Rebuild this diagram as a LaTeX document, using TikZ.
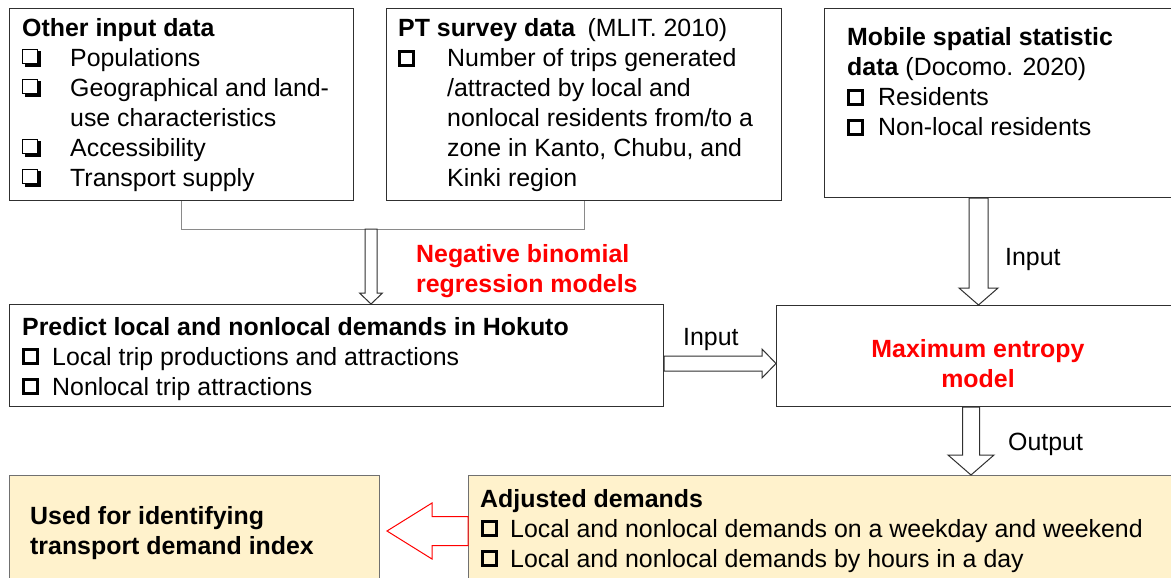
\documentclass[tikz,border=0pt]{standalone}
\usepackage{fontspec}
\setmainfont{Liberation Sans}
\usetikzlibrary{calc}

\definecolor{paleyellow}{HTML}{FFF2CC}
\definecolor{boxline}{HTML}{303030}
\definecolor{yellowline}{HTML}{707070}
\definecolor{linkgray}{HTML}{8A8A8A}
\definecolor{modelred}{HTML}{FF0000}

% bullets: thick square and shadowed square
\newcommand\sqbox{\raisebox{3pt}{\setlength\fboxrule{3pt}\setlength\fboxsep{0pt}\fbox{\rule{0pt}{11pt}\hspace{11pt}}}}
\newcommand\shbox{\makebox[19pt][l]{\rlap{\hspace{2.8pt}\rule{15.6pt}{15.6pt}}%
  \raisebox{4pt}{\setlength\fboxrule{1.2pt}\setlength\fboxsep{0pt}%
  \fcolorbox{black}{white}{\rule{0pt}{13.2pt}\hspace{13.2pt}}}}}
\newcommand\itm[2]{\makebox[#1][l]{#2}}

% hollow block arrows: style, from, to, shaft half width, head half width, head length
\newcommand\hollowdown[6]{\draw[#1] let \p1=(#2), \p2=(#3) in
  (\x1-#4pt,\y1) -- (\x1-#4pt,\y2+#6pt) -- (\x1-#5pt,\y2+#6pt) -- (\x1,\y2)
  -- (\x1+#5pt,\y2+#6pt) -- (\x1+#4pt,\y2+#6pt) -- (\x1+#4pt,\y1) -- cycle;}
\newcommand\hollowright[6]{\draw[#1] let \p1=(#2), \p2=(#3) in
  (\x1,\y1+#4pt) -- (\x2-#6pt,\y1+#4pt) -- (\x2-#6pt,\y1+#5pt) -- (\x2,\y1)
  -- (\x2-#6pt,\y1-#5pt) -- (\x2-#6pt,\y1-#4pt) -- (\x1,\y1-#4pt) -- cycle;}
\newcommand\hollowleft[6]{\draw[#1] let \p1=(#2), \p2=(#3) in
  (\x1,\y1+#4pt) -- (\x2+#6pt,\y1+#4pt) -- (\x2+#6pt,\y1+#5pt) -- (\x2,\y1)
  -- (\x2+#6pt,\y1-#5pt) -- (\x2+#6pt,\y1-#4pt) -- (\x1,\y1-#4pt) -- cycle;}

\tikzset{
  box/.style={draw=boxline, line width=1.1pt, fill=white, anchor=north west, inner sep=0pt},
  ybox/.style={draw=yellowline, line width=1.1pt, fill=paleyellow, anchor=north west, inner sep=0pt},
  txt/.style={anchor=base west, inner sep=0pt, font=\fontsize{24.9}{30}\selectfont},
  redtxt/.style={txt, text=modelred, font=\fontsize{24.9}{30}\selectfont\bfseries},
  link/.style={draw=linkgray, line width=1pt},
  blockarrow/.style={draw=boxline, line width=1pt, fill=white, line join=miter},
  redarrow/.style={draw=modelred, line width=1pt, fill=white, line join=miter}
}

\begin{document}
\begin{tikzpicture}[x=1pt,y=-1pt]
\clip (0,0) rectangle (1171,578);
\fill[white] (0,0) rectangle (1171,578);

% boxes
\node[box, minimum width=344pt, minimum height=192pt] (other) at (9,8) {};
\node[box, minimum width=395pt, minimum height=192pt] (pt) at (386,8) {};
\node[box, minimum width=352pt, minimum height=189pt] (mob) at (824,8) {};
\node[box, minimum width=654pt, minimum height=102pt] (pred) at (9,304) {};
\node[box, minimum width=400pt, minimum height=101pt] (maxent) at (776,305) {};
\node[ybox, minimum width=370pt, minimum height=110pt] (used) at (9,475) {};
\node[ybox, minimum width=710pt, minimum height=110pt] (adj) at (468,475) {};

% box texts
\node[txt] (othertxt) at (22,37) {\begin{tabular}[t]{@{}l@{}l@{}}
\multicolumn{2}{@{}l@{}}{\textbf{Other input data}}\\
\itm{48pt}{\shbox} & Populations\\
\itm{48pt}{\shbox} & Geographical and land-\\
 & use characteristics\\
\itm{48pt}{\shbox} & Accessibility\\
\itm{48pt}{\shbox} & Transport supply
\end{tabular}};

\node[txt] (pttxt) at (398,37) {\begin{tabular}[t]{@{}l@{}l@{}}
\multicolumn{2}{@{}l@{}}{\textbf{PT survey data}\hspace{12pt}(MLIT. 2010)}\\
\itm{49pt}{\sqbox} & Number of trips generated\\
 & /attracted by local and\\
 & nonlocal residents from/to a\\
 & zone in Kanto, Chubu, and\\
 & Kinki region
\end{tabular}};

\node[txt] (mobtxt) at (847,46) {\begin{tabular}[t]{@{}l@{}}
\textbf{Mobile spatial statistic}\\
\textbf{data} (Docomo. 2020)\\
\itm{31pt}{\sqbox}Residents\\
\itm{31pt}{\sqbox}Non-local residents
\end{tabular}};

\node[txt] (predtxt) at (22,335) {\begin{tabular}[t]{@{}l@{}}
\textbf{Predict local and nonlocal demands in Hokuto}\\
\itm{30pt}{\sqbox}Local trip productions and attractions\\
\itm{30pt}{\sqbox}Nonlocal trip attractions
\end{tabular}};

\node[redtxt, anchor=base] (maxtxt) at (978,357) {\begin{tabular}[t]{@{}c@{}}
Maximum entropy\\ model
\end{tabular}};

\node[redtxt] (nbtxt) at (416,262) {\begin{tabular}[t]{@{}l@{}}
Negative binomial\\ regression models
\end{tabular}};

\node[txt] (usedtxt) at (30,524) {\begin{tabular}[t]{@{}l@{}}
\textbf{Used for identifying}\\
\textbf{transport demand index}
\end{tabular}};

\node[txt] (adjtxt) at (480,507) {\begin{tabular}[t]{@{}l@{}}
\textbf{Adjusted demands}\\
\itm{30pt}{\hspace{1pt}\sqbox}Local and nonlocal demands on a weekday and weekend\\
\itm{30pt}{\hspace{1pt}\sqbox}Local and nonlocal demands by hours in a day
\end{tabular}};

% arrow labels
\node[txt] (inlab1) at (1005,265) {Input};
\node[txt] (inlab2) at (683,345) {Input};
\node[txt] (outlab) at (1008,450) {Output};

% joining line from the two data boxes
\coordinate (junction) at (371,229);
\draw[link] (other.south) -- (other.south |- junction) -| (pt.south);

% block arrows
\hollowdown{blockarrow}{junction}{pred.north -| junction}{6}{11.5}{11}
\coordinate (mx) at (978.5,0);
\hollowdown{blockarrow}{mob.south -| mx}{maxent.north -| mx}{9.5}{19.5}{17}
\coordinate (ry) at (0,363.5);
\hollowright{blockarrow}{pred.east |- ry}{maxent.west |- ry}{7.5}{14.5}{14}
\coordinate (ox) at (971,0);
\hollowdown{blockarrow}{maxent.south -| ox}{adj.north -| ox}{8.5}{23}{20}
\coordinate (redtip) at (387,531);
\hollowleft{redarrow}{adj.west |- redtip}{redtip}{14.5}{28}{45}
\end{tikzpicture}
\end{document}
